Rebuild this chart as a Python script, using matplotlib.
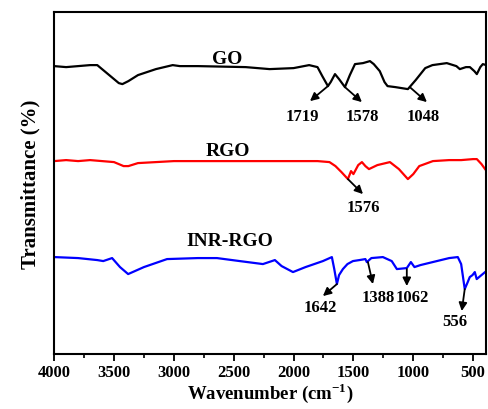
import matplotlib
matplotlib.use("Agg")
import matplotlib.pyplot as plt
from matplotlib.ticker import MultipleLocator

plt.rcParams['font.family'] = ['Liberation Serif', 'DejaVu Serif']
plt.rcParams['font.weight'] = 'bold'
plt.rcParams['mathtext.fontset'] = 'custom'
plt.rcParams['mathtext.rm'] = 'Liberation Serif:bold'
plt.rcParams['mathtext.bf'] = 'Liberation Serif:bold'

go_wn = [4000, 3900, 3800, 3700, 3640, 3550, 3460, 3430, 3380, 3300, 3150, 3010, 2950, 2800,
         2600, 2400, 2200, 2000, 1870, 1800, 1760, 1713, 1690, 1654, 1620, 1571, 1530, 1487,
         1420, 1362, 1330, 1280, 1240, 1215, 1150, 1045, 980, 900, 840, 720, 640, 611, 560,
         527, 490, 469, 440, 419, 390]
go_t = [288, 287, 288, 289, 289, 280, 271, 270, 273, 279, 285, 289, 288, 288,
        287.5, 287, 285, 286, 289, 287, 278, 268, 272, 280, 275, 267, 279, 290,
        291, 293, 290, 283, 272, 268, 267, 265, 274, 286, 289, 291, 288, 285, 287,
        287, 283, 280, 287, 290, 289]

rgo_wn = [4000, 3900, 3800, 3700, 3600, 3500, 3420, 3380, 3300, 3150, 3000, 2800, 2500, 2200,
          2000, 1800, 1700, 1650, 1600, 1546, 1520, 1500, 1460, 1429, 1400, 1370, 1300, 1195,
          1120, 1045, 1000, 950, 836, 700, 600, 500, 469, 430, 400]
rgo_t = [193, 194, 193, 194, 193, 192, 188, 188, 191, 192, 193, 193, 193, 193,
         193, 193, 192, 188, 182, 175, 183, 180, 189, 192, 188, 185, 189, 192,
         185, 175, 180, 188, 193, 194, 194, 195, 195, 190, 185]

inr_wn = [4000, 3800, 3640, 3590, 3516, 3450, 3382, 3250, 3057, 2800, 2640, 2450, 2256, 2156,
          2100, 2005, 1900, 1755, 1680, 1660, 1638, 1620, 1588, 1550, 1504, 1450, 1400, 1388,
          1350, 1254, 1180, 1137, 1054, 1020, 990, 940, 803, 700, 628, 600, 570, 545, 528,
          505, 486, 470, 450, 420, 400]
inr_t = [97, 96, 94, 93, 96, 87, 80, 87, 95, 96, 96, 93, 90, 94,
         88, 82, 87, 93, 97, 85, 70, 79, 85, 90, 93, 94, 95, 92,
         96, 97, 93, 85, 86, 92, 87, 89, 93, 96, 97, 90, 65, 72, 77,
         79, 82, 75, 77, 80, 82]

series_labels = ['GO', 'RGO', 'INR-RGO']
series_colors = ['black', '#ff0000', '#0000ff']
label_pos = [(2556, 296), (2548, 204), (2531, 114)]

# peak annotations: (text, tail, head, text position)
peaks = [
    ('1719', (1713, 268), (1863, 253), (1930, 238)),
    ('1578', (1571, 267), (1429, 252), (1429, 238)),
    ('1048', (1029, 267), (886, 252), (920, 238)),
    ('1576', (1546, 175), (1420, 160), (1420, 147)),
    ('1642', (1638, 70), (1755, 58), (1780, 47)),
    ('1388', (1379, 92), (1337, 70), (1295, 57)),
    ('1062', (1054, 85), (1054, 68), (1012, 57)),
    ('556', (570, 65), (595, 43), (653, 33)),
]

fig = plt.figure(figsize=(4.88, 4.10), dpi=100)
ax = fig.add_axes([0.111, 0.134, 0.885, 0.834])

for wn, t, c in zip([go_wn, rgo_wn, inr_wn], [go_t, rgo_t, inr_t], series_colors):
    ax.plot(wn, t, color=c, lw=1.6)

for lab, (x, y) in zip(series_labels, label_pos):
    ax.text(x, y, lab, ha='center', va='center', fontsize=14, fontweight='bold')

for txt, tail, head, tpos in peaks:
    ax.annotate('', xy=head, xytext=tail,
                arrowprops=dict(arrowstyle='-|>', color='black', lw=1.3,
                                mutation_scale=12, shrinkA=0, shrinkB=0))
    ax.text(tpos[0], tpos[1], txt, ha='center', va='center', fontsize=12, fontweight='bold')

ax.set_xlim(4000, 392)
ax.set_ylim(0, 342)
ax.set_yticks([])
ax.xaxis.set_major_locator(MultipleLocator(500))
ax.xaxis.set_minor_locator(MultipleLocator(250))
ax.tick_params(axis='x', which='major', direction='out', length=5, width=1.3, labelsize=12, pad=2)
ax.tick_params(axis='x', which='minor', direction='out', length=3, width=1.2)
for lbl in ax.get_xticklabels():
    lbl.set_fontweight('bold')
for s in ax.spines.values():
    s.set_linewidth(1.5)

ax.set_xlabel('Wavenumber (cm$^{\\mathrm{-1}}$)', fontsize=13.5, fontweight='bold', labelpad=0)
ax.set_ylabel('Transmittance (%)', fontsize=15, fontweight='bold', labelpad=10)

fig.savefig('out.png', dpi=100)
